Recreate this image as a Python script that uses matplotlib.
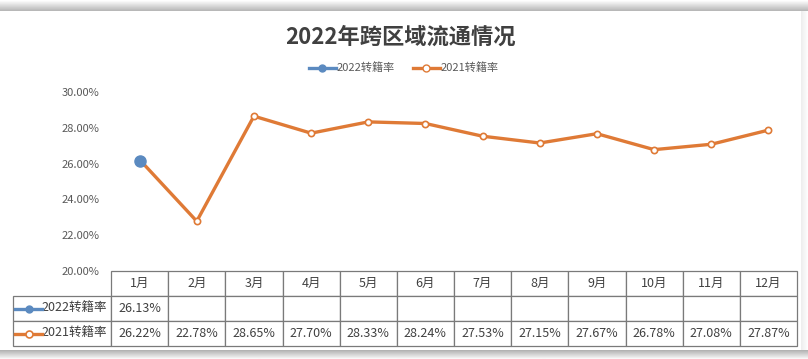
import numpy as np
import matplotlib
matplotlib.use("Agg")
import matplotlib.pyplot as plt
from matplotlib.lines import Line2D

plt.rcParams['font.family'] = ['Noto Sans CJK SC', 'DejaVu Sans']

# data
months = ['1月', '2月', '3月', '4月', '5月', '6月', '7月', '8月', '9月', '10月', '11月', '12月']
rate_2022 = [26.13]
rate_2021 = [26.22, 22.78, 28.65, 27.70, 28.33, 28.24, 27.53, 27.15, 27.67, 26.78, 27.08, 27.87]
series_names = ['2022转籍率', '2021转籍率']
title = '2022年跨区域流通情况'
y_ticks = [20, 22, 24, 26, 28, 30]

W, H = 808, 359
fig = plt.figure(figsize=(W / 100, H / 100), dpi=100)
fig.patch.set_facecolor('white')

# overlay in pixel coords for the frame / shadows
bg = fig.add_axes([0, 0, 1, 1], zorder=-5)
bg.axis('off')
top_grad = np.linspace(1.0, 0.72, 12).reshape(-1, 1)
bg.imshow(top_grad, cmap='gray', vmin=0, vmax=1, extent=[0, W, 11, 0], aspect='auto')
bot_grad = np.linspace(0.70, 0.97, 8).reshape(-1, 1)
bg.imshow(bot_grad, cmap='gray', vmin=0, vmax=1, extent=[0, W, H, 350], aspect='auto')
right_grad = np.linspace(0.93, 0.99, 6).reshape(1, -1)
bg.imshow(right_grad, cmap='gray', vmin=0, vmax=1, extent=[801, W, 350, 11], aspect='auto')
bg.set_xlim(0, W)
bg.set_ylim(H, 0)

orange = '#DF7A36'
blue = '#5B8AC0'
grey_txt = '#595959'

left, right, top, bottom = 111, 797, 92, 271
ax = fig.add_axes([left / W, 1 - bottom / H, (right - left) / W, (bottom - top) / H])
x = np.arange(len(months))
ax.plot(x, rate_2021, color=orange, lw=2.4, marker='o', ms=4.5, mfc='white',
        mec=orange, mew=1.2, label=series_names[1], zorder=3,
        solid_capstyle='round')
ax.plot(x[:len(rate_2022)], rate_2022, color=blue, lw=2.4, marker='o', ms=8,
        mfc=blue, mec=blue, label=series_names[0], zorder=4)
ax.set_xlim(-0.5, len(months) - 0.5)
ax.set_ylim(20, 30)
ax.set_yticks(y_ticks)
ax.set_yticklabels([f'{v:.2f}%' for v in y_ticks], fontsize=8, color=grey_txt)
ax.tick_params(axis='y', length=0, pad=8.5)
ax.set_xticks([])
for s in ax.spines.values():
    s.set_visible(False)

# data table under the axes
cell_text = [[''] + months,
             [series_names[0]] + [f'{v:.2f}%' for v in rate_2022] + [''] * (len(months) - len(rate_2022)),
             [series_names[1]] + [f'{v:.2f}%' for v in rate_2021]]
tab_left, tab_bottom = 13, 346
col_w = [98] + [(right - left) / len(months)] * len(months)
tbl = ax.table(cellText=cell_text, colWidths=col_w, cellLoc='center',
               bbox=[(tab_left - left) / (right - left), -(tab_bottom - bottom) / (bottom - top),
                     (right - tab_left) / (right - left), (tab_bottom - bottom) / (bottom - top)])
tbl.auto_set_font_size(False)
for (r, c), cell in tbl.get_celld().items():
    cell.set_edgecolor('#7a7a7a')
    cell.set_linewidth(0.9)
    cell.get_text().set_fontsize(9)
    cell.get_text().set_color('#404040')
    if c == 0:
        cell.get_text().set_ha('right')
        cell.PAD = 0.04
        cell.visible_edges = '' if r == 0 else 'closed'

# legend samples inside the row label cells
fg = fig.add_axes([0, 0, 1, 1], zorder=10)
fg.set_xlim(0, W)
fg.set_ylim(H, 0)
fg.axis('off')
fg.plot([15, 42], [308.5, 308.5], color=blue, lw=2.4)
fg.plot([28.5], [308.5], 'o', color=blue, ms=5)
fg.plot([15, 42], [333.5, 333.5], color=orange, lw=2.4)
fg.plot([28.5], [333.5], 'o', mfc='white', mec=orange, ms=5, mew=1.2)

fig.text(400 / W, 1 - 37 / H, title, ha='center', va='center', fontsize=16,
         fontweight='bold', color='#404040')

handles = [Line2D([], [], color=blue, lw=2.4, marker='o', ms=5, mfc=blue, mec=blue),
           Line2D([], [], color=orange, lw=2.4, marker='o', ms=5, mfc='white', mec=orange)]
leg = fig.legend(handles, series_names, loc='center', ncol=2,
                 bbox_to_anchor=(404 / W, 1 - 68 / H), frameon=False, fontsize=8,
                 handlelength=2.4, handletextpad=0.1, columnspacing=1.6)
for t in leg.get_texts():
    t.set_color(grey_txt)

fig.savefig('out.png', dpi=100, facecolor='white')
